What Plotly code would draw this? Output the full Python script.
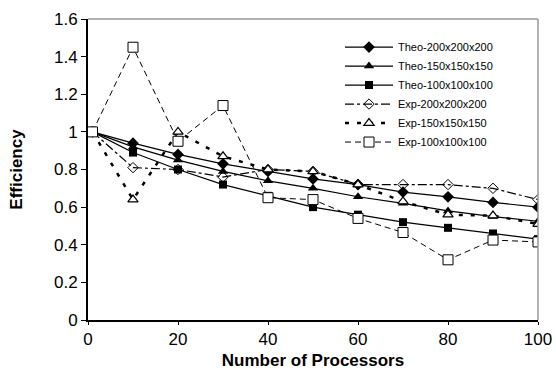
import plotly.graph_objects as go

procs = [1, 10, 20, 30, 40, 50, 60, 70, 80, 90, 100]
theo_200 = [1.0, 0.94, 0.88, 0.83, 0.79, 0.75, 0.72, 0.68, 0.655, 0.625, 0.60]
theo_150 = [1.0, 0.92, 0.85, 0.79, 0.74, 0.70, 0.655, 0.62, 0.58, 0.55, 0.525]
theo_100 = [1.0, 0.89, 0.80, 0.72, 0.66, 0.60, 0.56, 0.52, 0.49, 0.46, 0.43]
exp_200 = [1.0, 0.81, 0.80, 0.76, 0.80, 0.79, 0.72, 0.72, 0.72, 0.70, 0.64]
exp_150 = [1.0, 0.64, 1.0, 0.87, 0.80, 0.79, 0.72, 0.63, 0.56, 0.555, 0.51]
exp_100 = [1.0, 1.45, 0.95, 1.14, 0.65, 0.64, 0.54, 0.465, 0.32, 0.425, 0.415]
names = ["Theo-200x200x200", "Theo-150x150x150", "Theo-100x100x100",
         "Exp-200x200x200", "Exp-150x150x150", "Exp-100x100x100"]

fig = go.Figure()
styles = [
    (theo_200, dict(color="black", width=1.2), dict(symbol="diamond", size=9, color="black")),
    (theo_150, dict(color="black", width=1.2), dict(symbol="triangle-up", size=9, color="black")),
    (theo_100, dict(color="black", width=1.2), dict(symbol="square", size=8, color="black")),
    (exp_200, dict(color="black", width=1.2, dash="dashdot"),
     dict(symbol="diamond-open", size=8, color="black", line=dict(width=1))),
    (exp_150, dict(color="black", width=2.5, dash="4px,8px"),
     dict(symbol="triangle-up", size=9, color="white", line=dict(width=1.2, color="black"))),
    (exp_100, dict(color="black", width=1, dash="6px,4px"),
     dict(symbol="square", size=10, color="white", line=dict(width=1, color="black"))),
]
for name, (vals, ln, mk) in zip(names, styles):
    fig.add_trace(go.Scatter(x=procs, y=vals, name=name, mode="lines+markers",
                             line=ln, marker=mk))

fig.update_layout(
    width=556, height=373,
    margin=dict(l=88, r=18, t=19, b=53, autoexpand=False),
    plot_bgcolor="white", paper_bgcolor="white",
    font=dict(family="Liberation Sans, Arial, sans-serif", color="black"),
    showlegend=True,
    legend=dict(x=0.56, y=0.955, xanchor="left", yanchor="top",
                font=dict(size=11, color="black"), bgcolor="rgba(0,0,0,0)",
                tracegroupgap=0, itemwidth=48),
    xaxis=dict(range=[0, 100], tickvals=[0, 20, 40, 60, 80, 100], automargin=False,
               showgrid=False, zeroline=False, showline=True, linecolor="black",
               linewidth=2, ticks="outside", ticklen=3, tickcolor="black",
               tickfont=dict(size=17),
               title=dict(text="<b>Number of Processors</b>", font=dict(size=17), standoff=6)),
    yaxis=dict(range=[0, 1.6], tickvals=[0, 0.2, 0.4, 0.6, 0.8, 1, 1.2, 1.4, 1.6],
               ticktext=["0", "0.2", "0.4", "0.6", "0.8", "1", "1.2", "1.4", "1.6"],
               automargin=False,
               showgrid=False, zeroline=False, showline=True, linecolor="black",
               linewidth=2, ticks="outside", ticklen=5, tickcolor="black",
               tickfont=dict(size=17),
               title=dict(text="<b>Efficiency</b>", font=dict(size=17), standoff=27)),
    shapes=[
        dict(type="line", xref="paper", yref="paper", x0=0, x1=1, y0=1, y1=1,
             line=dict(color="#999999", width=1.5)),
        dict(type="line", xref="paper", yref="paper", x0=1, x1=1, y0=0, y1=1,
             line=dict(color="#999999", width=1.5)),
    ],
)
fig.write_html("out.html")
